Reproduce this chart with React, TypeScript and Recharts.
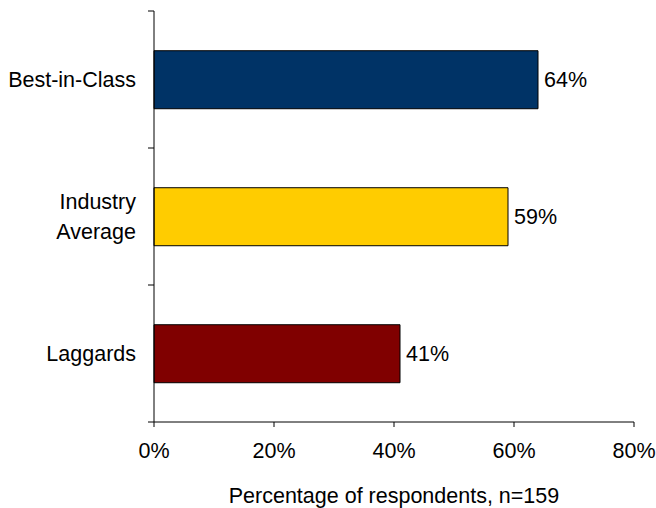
import { Bar, BarChart, Cell, LabelList, XAxis, YAxis } from "recharts";

const categories = ["Best-in-Class", "Industry Average", "Laggards"];
const values = [64, 59, 41];
const barColors = ["#003366", "#FFCC00", "#800000"];
const xTicks = [0, 20, 40, 60, 80];

const data = categories.map((name, i) => ({ name, value: values[i] }));

const FONT = "'Liberation Sans', Arial, sans-serif";
const FS = 21.5;
const PLOT_TOP = 11;
const PLOT_H = 411;
const BAND = PLOT_H / categories.length;

function CatTick(props: any) {
  const { x, y, payload, index } = props;
  const words: string[] = payload.value === "Industry Average" ? ["Industry", "Average"] : [payload.value];
  const axisX = x + 8;
  const top = y - BAND / 2;
  return (
    <g>
      <line x1={axisX - 6} x2={axisX} y1={top} y2={top} stroke="#000" />
      {index === categories.length - 1 && (
        <line x1={axisX - 6} x2={axisX} y1={y + BAND / 2} y2={y + BAND / 2} stroke="#000" />
      )}
      <text x={x - 10} y={y} textAnchor="end" fontSize={FS} fontFamily={FONT} fill="#000">
        {words.map((w, i) => (
          <tspan key={w} x={x - 10} dy={i === 0 ? (words.length === 1 ? 7 : -8) : 30}>
            {w}
          </tspan>
        ))}
      </text>
    </g>
  );
}

export default function App() {
  return (
    <div style={{ position: "absolute", left: 0, top: 0, background: "#fff" }}>
      <BarChart
        width={656}
        height={508}
        data={data}
        layout="vertical"
        barCategoryGap="29%"
        margin={{ top: PLOT_TOP, right: 22, left: 0, bottom: 0 }}
      >
        <XAxis
          type="number"
          domain={[0, 80]}
          ticks={xTicks}
          tickFormatter={(v) => `${v}%`}
          tick={{ fontSize: FS, fill: "#000", fontFamily: FONT, dy: 14 }}
          tickSize={5}
          stroke="#000"
          height={86}
          label={{
            value: "Percentage of respondents, n=159",
            position: "insideBottom",
            offset: 5,
            fontSize: FS,
            fill: "#000",
            fontFamily: FONT,
          }}
        />
        <YAxis
          type="category"
          dataKey="name"
          width={154}
          tickLine={false}
          tick={<CatTick />}
          stroke="#000"
          interval={0}
        />
        <Bar dataKey="value" stroke="#000" strokeWidth={1} isAnimationActive={false}>
          {data.map((d, i) => (
            <Cell key={d.name} fill={barColors[i]} />
          ))}
          <LabelList
            dataKey="value"
            position="right"
            offset={6}
            formatter={(v: any) => `${v}%`}
            style={{ fontSize: FS, fill: "#000", fontFamily: FONT }}
          />
        </Bar>
      </BarChart>
    </div>
  );
}
